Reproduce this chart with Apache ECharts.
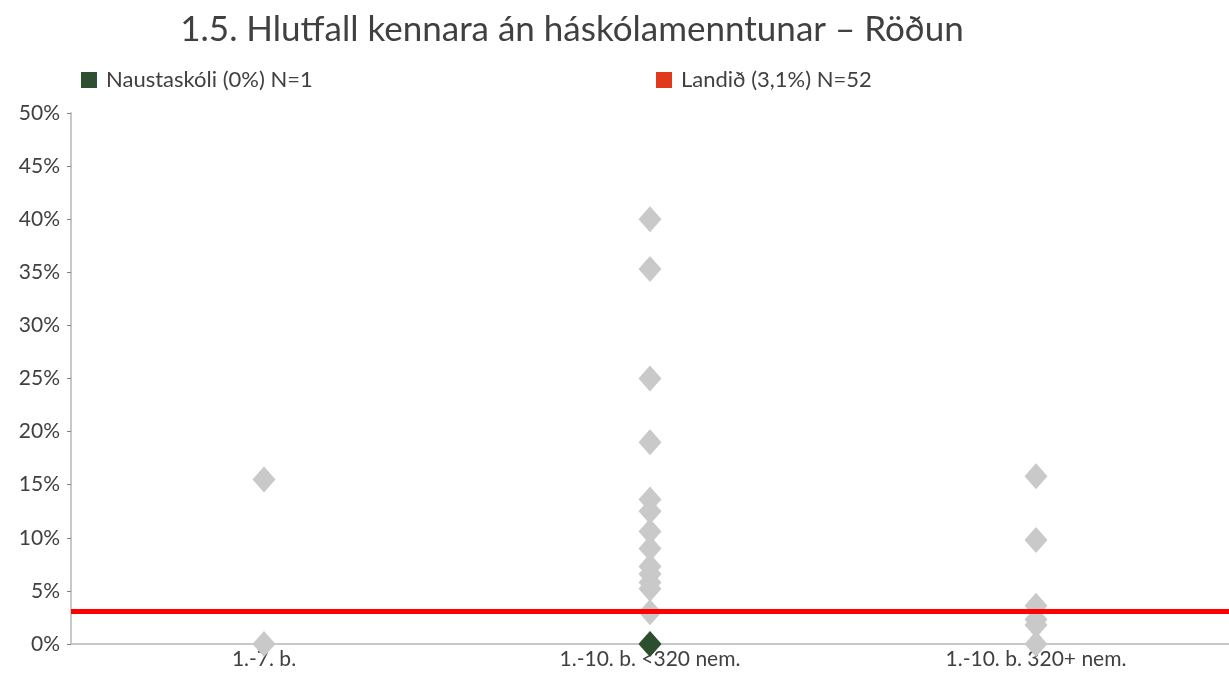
<!DOCTYPE html>
<html>
<head>
<meta charset="utf-8">
<script src="https://cdn.jsdelivr.net/npm/echarts@6/dist/echarts.min.js"></script>
<style>
  html, body { margin: 0; padding: 0; background: #fff; }
  #chart { width: 1229px; height: 673px; }
</style>
</head>
<body>
<div id="chart"></div>
<script>
var categories = ['1.-7. b.', '1.-10. b. <320 nem.', '1.-10. b. 320+ nem.'];

// all schools, grey diamonds: [category index, percent]
var allSchools = [
    [0, 15.5], [0, 0],
    [1, 40], [1, 35.3], [1, 25], [1, 19], [1, 13.6], [1, 12.5], [1, 10.6],
    [1, 9], [1, 7.3], [1, 6.6], [1, 5.8], [1, 5.2], [1, 3], [1, 0],
    [2, 15.8], [2, 9.8], [2, 3.6], [2, 2.3], [2, 1.8], [2, 0]
];
var schoolName = 'Naustaskóli (0%) N=1';
var schoolPoints = [[1, 0]];
var countryName = 'Landið (3,1%) N=52';
var countryValue = 3.1;
var yTicks = [0, 5, 10, 15, 20, 25, 30, 35, 40, 45, 50];

(function () {
    var myChart = echarts.init(document.getElementById('chart'));
    var font = 'Lato, "Open Sans", sans-serif';

    var option = {
        animation: false,
        title: {
            text: '1.5. Hlutfall kennara án háskólamenntunar – Röðun',
            left: 567,
            textAlign: 'center',
            top: 7,
            textStyle: { fontFamily: font, fontWeight: 'normal', fontSize: 35, color: '#404040' }
        },
        legend: [{
            data: [{ name: schoolName, itemStyle: { color: '#2d5030', opacity: 1 } }],
            left: 76,
            top: 64,
            icon: 'rect',
            itemWidth: 16,
            itemHeight: 16,
            textStyle: { fontFamily: font, fontSize: 22, color: '#404040', padding: [0, 0, 0, 4] }
        }, {
            data: [{ name: countryName, itemStyle: { color: '#e0391b', opacity: 1 } }],
            left: 651,
            top: 64,
            icon: 'rect',
            itemWidth: 16,
            itemHeight: 16,
            textStyle: { fontFamily: font, fontSize: 22, color: '#404040', padding: [0, 0, 0, 4] }
        }],
        grid: {
            left: 71,
            right: 0,
            top: 113,
            bottom: 29,
            containLabel: false
        },
        xAxis: {
            type: 'category',
            data: categories,
            boundaryGap: true,
            axisLine: { lineStyle: { color: '#c8c8c8', width: 2 } },
            axisTick: { show: false },
            axisLabel: { fontFamily: font, fontSize: 21, color: '#404040', margin: 5 }
        },
        yAxis: {
            type: 'value',
            min: yTicks[0],
            max: yTicks[yTicks.length - 1],
            interval: 5,
            splitLine: { show: false },
            axisLine: { show: true, lineStyle: { color: '#c8c8c8', width: 2 } },
            axisTick: { show: true, length: 4, lineStyle: { color: '#808080' } },
            axisLabel: { fontFamily: font, fontSize: 21, color: '#404040', margin: 11, formatter: '{value}%' }
        },
        series: [
            {
                name: 'Skólar',
                type: 'scatter',
                symbol: 'diamond',
                symbolSize: [23, 26],
                itemStyle: { color: '#c9c9c9', opacity: 1 },
                data: allSchools,
                z: 2
            },
            {
                name: countryName,
                type: 'scatter',
                data: [],
                itemStyle: { color: '#e0391b', opacity: 1 },
                markLine: {
                    silent: true,
                    symbol: 'none',
                    label: { show: false },
                    lineStyle: { color: '#ff0000', width: 5, type: 'solid' },
                    data: [{ yAxis: countryValue }]
                },
                z: 3
            },
            {
                name: schoolName,
                type: 'scatter',
                symbol: 'diamond',
                symbolSize: [23, 26],
                itemStyle: { color: '#2b4f2e', opacity: 1 },
                data: schoolPoints,
                z: 4
            }
        ]
    };

    myChart.setOption(option);
    window.addEventListener('resize', function () {
        myChart.resize();
    });
})();
</script>
</body>
</html>
